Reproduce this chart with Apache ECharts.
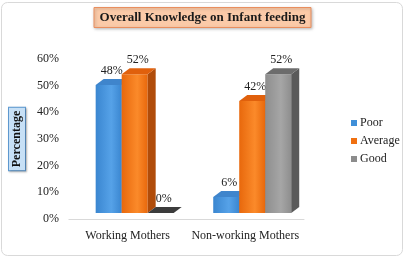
<!DOCTYPE html>
<html>
<head>
<meta charset="utf-8">
<script src="https://cdn.jsdelivr.net/npm/echarts@6/dist/echarts.min.js"></script>
<style>
  html, body { margin: 0; padding: 0; background: #fff; }
  #main { width: 405px; height: 261px; }
</style>
</head>
<body>
<div id="main"></div>
<script>
var categories = ['Working Mothers', 'Non-working Mothers'];
var poor = [48, 6];
var average = [52, 42];
var good = [0, 52];
var seriesNames = ['Poor', 'Average', 'Good'];

var serif = 'Liberation Serif';
// front, top, side colours for each series
var palette = [
  { front: ['#3a86d0', '#56a2e8'], top: '#3f85cc', side: '#2a66a6', legend: '#3f8fd8' },
  { front: ['#e8680c', '#fb8a2a'], top: '#e0600c', side: '#b04c0a', legend: '#f07010' },
  { front: ['#8e8e8e', '#a6a6a6'], top: '#6c6c6c', side: '#5a5a5a', legend: '#8c8c8c' }
];

function bar3d(idx) {
  var col = palette[idx];
  return function (params, api) {
    var c = api.value(0), v = api.value(1);
    var base = api.coord([c, 0]);
    var top = api.coord([c, v]);
    var w = 26, dx = 8, dy = 6, sx = 7, sy = -6;
    var x0 = base[0] + sx + (idx - 1.5) * w;
    var yb = base[1] + sy;
    var yt = top[1] + sy;
    var kids = [];
    if (v > 0) {
      kids.push({
        type: 'rect',
        shape: { x: x0, y: yt, width: w, height: yb - yt },
        style: { fill: new echarts.graphic.LinearGradient(0, 0, 1, 0, [
          { offset: 0, color: col.front[0] }, { offset: 0.6, color: col.front[1] }, { offset: 1, color: col.front[0] }]) }
      });
      kids.push({
        type: 'polygon',
        shape: { points: [[x0 + w, yt], [x0 + w + dx, yt - dy], [x0 + w + dx, yb - dy], [x0 + w, yb]] },
        style: { fill: col.side }
      });
    }
    kids.push({
      type: 'polygon',
      shape: { points: [[x0, yt], [x0 + dx, yt - dy], [x0 + w + dx, yt - dy], [x0 + w, yt]] },
      style: { fill: v > 0 ? col.top : '#3c3c3c' }
    });
    kids.push({
      type: 'text',
      style: {
        text: v + '%', x: x0 + w / 2 + 3, y: yt - 8,
        align: 'center', verticalAlign: 'bottom',
        fontFamily: serif, fontSize: 12, fill: '#222'
      }
    });
    return { type: 'group', children: kids };
  };
}

function toData(arr) {
  return arr.map(function (v, i) { return [i, v]; });
}

var chart = echarts.init(document.getElementById('main'));
chart.setOption({
  backgroundColor: '#fff',
  animation: false,
  graphic: [
    {
      type: 'rect', z: -10,
      shape: { x: 1.5, y: 2.5, width: 401, height: 253, r: 6 },
      style: { fill: '#fff', stroke: '#d9d9d9', lineWidth: 1 }
    }
  ],
  title: {
    text: 'Overall Knowledge on Infant feeding',
    left: 'center',
    top: 7,
    padding: [4, 6],
    backgroundColor: '#fbcaa8',
    borderColor: '#e98e5e',
    borderWidth: 1,
    shadowColor: 'rgba(0,0,0,0.25)',
    shadowBlur: 3,
    shadowOffsetX: 1,
    shadowOffsetY: 1,
    textStyle: { fontFamily: serif, fontWeight: 'bold', fontSize: 13, color: '#1a1a1a' }
  },
  legend: {
    orient: 'vertical',
    left: 346,
    top: 112,
    icon: 'rect',
    itemWidth: 6,
    itemHeight: 6,
    itemGap: 6,
    data: seriesNames,
    textStyle: { fontFamily: serif, fontSize: 12, color: '#222', padding: [0, 0, 0, -2] }
  },
  grid: { left: 64, right: 101, top: 59, bottom: 42 },
  xAxis: {
    type: 'category',
    data: categories,
    axisLine: { lineStyle: { color: '#d9d9d9' } },
    axisTick: { show: false },
    axisLabel: { fontFamily: serif, fontSize: 12, color: '#222', margin: 11, interval: 0 }
  },
  yAxis: {
    type: 'value',
    min: 0, max: 60, interval: 10,
    name: 'Percentage',
    nameLocation: 'middle',
    nameRotate: 90,
    nameGap: 31,
    nameTextStyle: {
      fontFamily: serif, fontWeight: 'bold', fontSize: 12, color: '#111',
      backgroundColor: '#c7e0f6', borderColor: '#5f9bd3', borderWidth: 1, padding: [2, 3],
      shadowColor: 'rgba(0,0,0,0.25)', shadowBlur: 2, shadowOffsetX: 1, shadowOffsetY: 1
    },
    axisLine: { show: false },
    axisTick: { show: false },
    splitLine: { show: false },
    axisLabel: { fontFamily: serif, fontSize: 12, color: '#222', margin: 10, formatter: '{value}%' }
  },
  series: [poor, average, good].map(function (arr, i) {
    return {
      name: seriesNames[i],
      type: 'custom',
      renderItem: bar3d(i),
      itemStyle: { color: palette[i].legend },
      encode: { x: 0, y: 1 },
      data: toData(arr)
    };
  })
});
</script>
</body>
</html>
